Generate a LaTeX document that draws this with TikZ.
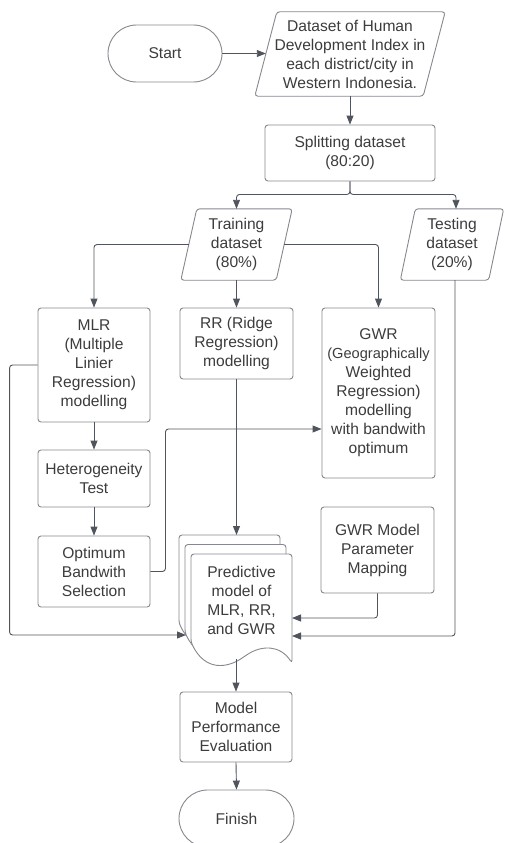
\documentclass[tikz,border=0pt]{standalone}
\usepackage{fontspec}
\setmainfont{Liberation Sans}
\usetikzlibrary{shapes.misc,arrows.meta,calc}
\definecolor{linec}{HTML}{50545C}
\definecolor{boxc}{HTML}{85888E}
\definecolor{txtc}{HTML}{3C3C3C}
\begin{document}
\begin{tikzpicture}[x=1pt,y=-1pt,
  every node/.style={font=\fontsize{15.6}{19}\selectfont, text=txtc, align=center, inner sep=0pt},
  stepbox/.style={draw=boxc, line width=0.9pt, rounded corners=3pt, rectangle},
  term/.style={draw=boxc, line width=0.9pt, rounded rectangle},
  flow/.style={draw=linec, line width=0.9pt, rounded corners=3pt, -{Triangle[length=9pt,width=7pt]}},
  pbox/.style={draw=boxc, line width=0.9pt, rounded corners=3pt},
  page/.style={draw=boxc, line width=0.9pt, rounded corners=3pt, fill=white},
  docpage/.pic={\draw[page] (0,0) -- (101,0) -- (101,109) .. controls (89,91) and (71,91) .. (54,102) .. controls (37,114) and (14,118) .. (0,88) -- cycle;}
]
\useasboundingbox (0,0) rectangle (504,843);
\clip (0,0) rectangle (504,843);

% terminals and process boxes
\node[term, minimum width=114pt, minimum height=57pt] (start) at (165,53.5) {Start};
\node[minimum width=168pt, minimum height=84pt] (data) at (350,54) {Dataset of Human\\Development Index in\\each district/city in\\Western Indonesia.};
\draw[pbox] ($(data.north west)+(11,0)$) -- ($(data.north east)+(11,0)$) -- ($(data.south east)+(-11,0)$) -- ($(data.south west)+(-11,0)$) -- cycle;

\node[stepbox, minimum width=170pt, minimum height=56pt] (split) at (350,153) {Splitting dataset\\(80:20)};

\node[minimum width=95pt, minimum height=71pt] (train) at (236.5,244.5) {Training\\dataset\\(80\%)};
\draw[pbox] ($(train.north west)+(8,0)$) -- ($(train.north east)+(8,0)$) -- ($(train.south east)+(-8,0)$) -- ($(train.south west)+(-8,0)$) -- cycle;

\node[minimum width=88pt, minimum height=71pt] (test) at (452,244.5) {Testing\\dataset\\(20\%)};
\draw[pbox] ($(test.north west)+(7.5,0)$) -- ($(test.north east)+(7.5,0)$) -- ($(test.south east)+(-7.5,0)$) -- ($(test.south west)+(-7.5,0)$) -- cycle;

\node[stepbox, minimum width=112pt, minimum height=114pt] (mlr) at (94,365) {MLR\\(Multiple\\Linier\\Regression)\\modelling};
\node[stepbox, minimum width=113pt, minimum height=71pt] (rr) at (236.5,343.5) {RR (Ridge\\Regression)\\modelling};
\node[stepbox, minimum width=113pt, minimum height=170pt] (gwr) at (378.5,393) {GWR\\{\fontsize{14.6}{19}\selectfont (Geographically}\\Weighted\\Regression)\\modelling\\with bandwith\\optimum};
\node[stepbox, minimum width=112pt, minimum height=57pt] (het) at (94,478.5) {Heterogeneity\\Test};
\node[stepbox, minimum width=112pt, minimum height=71pt] (opt) at (94,571.5) {Optimum\\Bandwith\\Selection};
\node[stepbox, minimum width=113pt, minimum height=86pt] (gmap) at (377.5,550) {GWR Model\\Parameter\\Mapping};

% multi-document
\pic at (179,535) {docpage};
\pic at (185,544.5) {docpage};
\pic at (191,554) {docpage};
\node (pred) at (241.5,600) {Predictive\\model of\\MLR, RR,\\and GWR};
\coordinate (predtop) at (236.5,535);
\coordinate (predbot) at (236,659);
\coordinate (predL) at (186,635);
\coordinate (predR1) at (292,618);
\coordinate (predR2) at (292,636);

\node[stepbox, minimum width=112pt, minimum height=70pt] (perf) at (236,727) {Model\\Performance\\Evaluation};
\node[term, minimum width=115pt, minimum height=57pt] (finish) at (236.5,818.5) {Finish};

% connectors
\draw[flow] (start.east) -- (start.east -| data.west);
\draw[flow] (data.south) -- (split.north);
\draw[flow] (split.south) -- ++(0,13) -| (train.north);
\draw[flow] (split.south) -- ++(0,13) -| ($(test.north)+(4,0)$);
\draw[flow] (train.west) -| (mlr.north);
\draw[flow] (train.east) -| (gwr.north);
\draw[flow] (train.south) -- (rr.north);
\draw[flow] (mlr.south) -- (het.north);
\draw[flow] (het.south) -- (opt.north);
\draw[flow] (opt.east) -- ++(15,0) |- ($(gwr.west)+(0,36)$);
\draw[flow] (rr.south) -- (predtop);
\draw[flow] (gmap.south) |- (predR1);
\draw[flow] ($(test.south)+(3,0)$) |- (predR2);
\draw[flow] (mlr.west) -- ++(-28,0) |- (predL);
\draw[flow] (predbot) -- (perf.north);
\draw[flow] (perf.south) -- (finish.north);
\end{tikzpicture}
\end{document}
